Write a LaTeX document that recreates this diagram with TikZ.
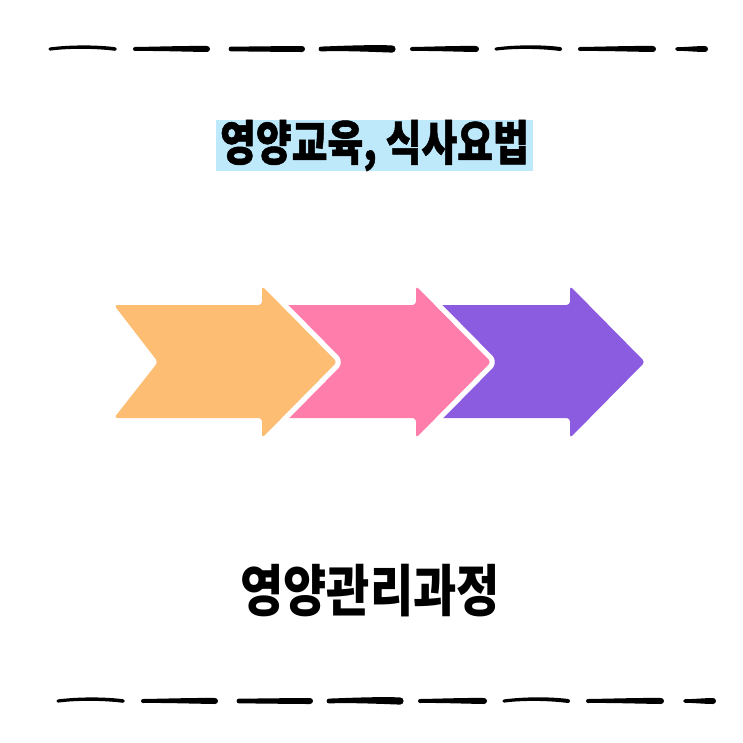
\documentclass[tikz,border=0pt]{standalone}
\usepackage{fontspec}
\newfontfamily\kor{Noto Sans CJK KR}
\newfontfamily\korheavy{Noto Sans CJK KR}[BoldFeatures={FakeBold=1.3}]
\definecolor{arrOrange}{RGB}{253,190,116}
\definecolor{arrPink}{RGB}{255,125,170}
\definecolor{arrPurple}{RGB}{139,92,224}
\definecolor{markBlue}{RGB}{190,233,251}
\tikzset{
  arrowpiece/.style={fill=#1,rounded corners=2.5pt,
    preaction={draw=white,line width=8pt,line join=round}},
  brush/.style={fill=black},
}
\begin{document}
\begin{tikzpicture}[x=0.75pt,y=0.75pt,yscale=-1,xscale=1]
	\useasboundingbox (0,0) rectangle (743,743);
	\fill[white] (0,0) rectangle (743,743);

	% Brush dashes, top and bottom
	\foreach \y/\dx in {49/0,701/8}{
	  \foreach \a/\b/\tl/\tr/\h in {50/115/1.6/1.8/2.5,135/207/2/3/0.3,231/302/2.4/3/0,321/392/2.4/3.6/0.8,412/476/2/3/0.3,496/560/1.6/2/2.5,580/653/2/3/0.3,677/705/1.8/3/0}{
	    \fill[brush] ({\a+\dx},{\y-\tl}) .. controls ({\a+\dx+0.3*(\b-\a)},{\y-\tl-\h}) and ({\b+\dx-0.3*(\b-\a)},{\y-\tr-\h}) .. ({\b+\dx},{\y-\tr})
	      arc[start angle=-90,end angle=90,radius=\tr]
	      .. controls ({\b+\dx-0.3*(\b-\a)},{\y+\tr-\h}) and ({\a+\dx+0.3*(\b-\a)},{\y+\tl-\h}) .. ({\a+\dx},{\y+\tl})
	      arc[start angle=90,end angle=270,radius=\tl] -- cycle;
	  }
	}

	% Text Node
	\node (title) [fill=markBlue,minimum width=237.75pt,minimum height=37.5pt,inner sep=0pt]
	  at (374.5,145.5) {\korheavy\bfseries\fontsize{36}{40}\selectfont\scalebox{0.81}[1]{영양교육, 식사요법}};

	% Arrows, back to front
	\foreach \s/\c in {308/arrPurple,154/arrPink,0/arrOrange}{
	  \path[arrowpiece=\c] ({114+\s},305) -- ({262+\s},305) -- ({262+\s},286) -- ({337+\s},362)
	    -- ({262+\s},438) -- ({262+\s},418) -- ({114+\s},418) -- ({158+\s},362) -- cycle;
	}

	% Text Node
	\node (process) [inner sep=0pt] at (370,591)
	  {\kor\bfseries\fontsize{42}{46}\selectfont\scalebox{0.84}[1]{영양관리과정}};

\end{tikzpicture}
\end{document}
